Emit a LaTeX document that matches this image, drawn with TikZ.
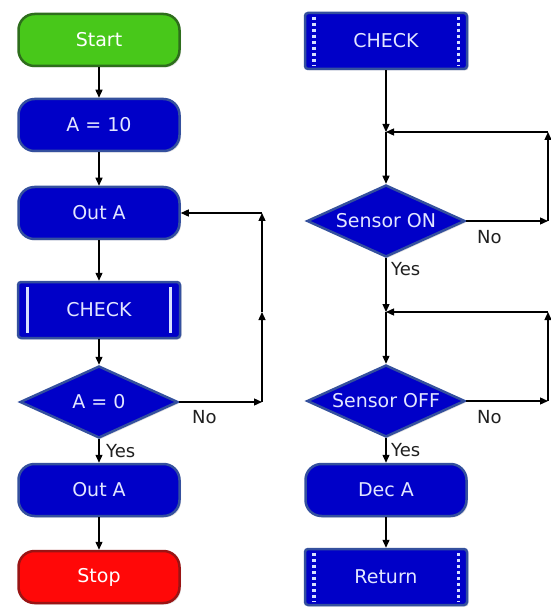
\documentclass[tikz,border=0pt]{standalone}
\usepackage{fontspec}
\setmainfont{DejaVu Sans}
\usetikzlibrary{shapes.geometric,arrows.meta,shadows,calc}
\definecolor{boxblue}{HTML}{0000C8}
\definecolor{boxedge}{HTML}{34509E}
\definecolor{startfill}{HTML}{48C81A}
\definecolor{startedge}{HTML}{2E6E1C}
\definecolor{stopfill}{HTML}{FF0808}
\definecolor{stopedge}{HTML}{9A1414}
\definecolor{boxtext}{HTML}{E2E6FF}
\definecolor{bartext}{HTML}{D8E0FF}
\definecolor{lbltext}{HTML}{202020}
\begin{document}
\begin{tikzpicture}[x=1pt,y=-1pt,
  base/.style={draw=boxedge, line width=2.5pt, text=boxtext, inner sep=0pt,
    font=\fontsize{19}{22}\selectfont,
    drop shadow={opacity=0.25, shadow xshift=1.5pt, shadow yshift=-1.5pt}},
  rbox/.style={base, fill=boxblue, rounded corners=16pt, minimum width=161pt, minimum height=52pt},
  sbox/.style={base, fill=boxblue, rounded corners=3pt, minimum width=162pt, minimum height=56pt},
  dia/.style={base, diamond, fill=boxblue, aspect=2.2, minimum width=158pt, minimum height=72pt},
  startbox/.style={rbox, fill=startfill, draw=startedge, text=white},
  stopbox/.style={rbox, fill=stopfill, draw=stopedge, text=white},
  arr/.style={line width=1.3pt, -{Triangle[length=8pt,width=7pt]}},
  lbl/.style={text=lbltext, font=\fontsize{18}{21}\selectfont, inner sep=0pt},
  solidbar/.style={line width=3pt, bartext},
  dotbar/.style={line width=3.5pt, bartext, dash pattern=on 3pt off 3pt}
]
\fill[white] (0,0) rectangle (550,609);
\useasboundingbox (0,0) rectangle (550,609);

% left column
\node[startbox] (start) at (99,40) {Start};
\node[rbox] (a10) at (99,125) {A = 10};
\node[rbox] (oa1) at (99,213) {Out A};
\node[sbox] (ckl) at (99,310) {CHECK};
\node[dia] (a0) at (99,402) {A = 0};
\node[rbox] (oa2) at (99,490) {Out A};
\node[stopbox] (stop) at (99,577) {Stop};

\draw[solidbar] ($(ckl.north west)+(11,6)$) -- ($(ckl.south west)+(11,-6)$);
\draw[solidbar] ($(ckl.north east)+(-11,6)$) -- ($(ckl.south east)+(-11,-6)$);

% right column
\node[sbox] (ckr) at (386,41) {CHECK};
\node[dia] (son) at (386,221) {Sensor ON};
\node[dia] (soff) at (386,401) {Sensor OFF};
\node[rbox] (deca) at (386,490) {Dec A};
\node[sbox] (ret) at (386,577) {Return};

\draw[dotbar] ($(ckr.north west)+(10,5)$) -- ($(ckr.south west)+(10,-5)$);
\draw[dotbar] ($(ckr.north east)+(-10,5)$) -- ($(ckr.south east)+(-10,-5)$);
\draw[dotbar] ($(ret.north west)+(10,5)$) -- ($(ret.south west)+(10,-5)$);
\draw[dotbar] ($(ret.north east)+(-10,5)$) -- ($(ret.south east)+(-10,-5)$);

% left connectors
\draw[arr] (start) -- (a10);
\draw[arr] (a10) -- (oa1);
\draw[arr] (oa1) -- (ckl);
\draw[arr] (ckl) -- (a0);
\draw[arr] (a0) -- (oa2);
\draw[arr] (oa2) -- (stop);

\coordinate (lx) at (262,0);
\coordinate (lb) at (a0.east -| lx);
\coordinate (lm) at (262,312);
\coordinate (lt) at (oa1.east -| lx);
\draw[arr] (a0.east) -- (lb);
\draw[arr] (lb) -- (lm);
\draw[arr] (lm) -- (lt);
\draw[arr] (lt) -- (oa1.east);

\node[lbl, anchor=west] (no1) at (192,417) {No};
\node[lbl, anchor=west] (yes1) at (106,451) {Yes};

% right connectors
\coordinate (j1) at (386,132);
\coordinate (r1) at (548,132);
\coordinate (r2) at (son.east -| r1);
\draw[arr] (ckr) -- (j1);
\draw[arr] (son.east) -- (r2);
\draw[arr] (r2) -- (r1);
\draw[arr] (r1) -- (j1);
\draw[arr] (j1) -- (son);

\coordinate (j2) at (386,312);
\coordinate (r3) at (548,312);
\coordinate (r4) at (soff.east -| r3);
\draw[arr] (son) -- (j2);
\draw[arr] (soff.east) -- (r4);
\draw[arr] (r4) -- (r3);
\draw[arr] (r3) -- (j2);
\draw[arr] (j2) -- (soff);
\draw[arr] (soff) -- (deca);
\draw[arr] (deca) -- (ret);

\node[lbl, anchor=west] (no2) at (477,237) {No};
\node[lbl, anchor=west] (yes2) at (391,269) {Yes};
\node[lbl, anchor=west] (no3) at (477,417) {No};
\node[lbl, anchor=west] (yes3) at (391,450) {Yes};
\end{tikzpicture}
\end{document}
